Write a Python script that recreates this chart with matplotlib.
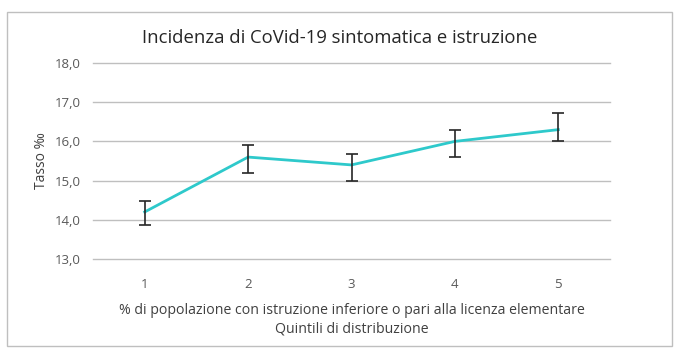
import matplotlib
matplotlib.use("Agg")
import matplotlib.pyplot as plt
from matplotlib.patches import Rectangle

quintili = [1, 2, 3, 4, 5]
tasso = [14.2, 15.6, 15.4, 16.0, 16.3]
ic_inf = [13.87, 15.2, 15.0, 15.6, 16.0]
ic_sup = [14.47, 15.92, 15.68, 16.3, 16.72]
yticks = [13.0, 14.0, 15.0, 16.0, 17.0, 18.0]

plt.rcParams['font.family'] = ['Open Sans', 'DejaVu Sans']

W, H = 687, 358
fig = plt.figure(figsize=(W / 100, H / 100), dpi=100)
fig.patches.append(Rectangle((7 / W, 1 - 346 / H), (672 - 7) / W, (346 - 12) / H,
                             transform=fig.transFigure, fill=False,
                             edgecolor='#BFBFBF', linewidth=1.0))

ax = fig.add_axes([93 / W, 1 - 259 / H, (610 - 93) / W, (259 - 63) / H])
ax.set_xlim(0.5, 5.5)
ax.set_ylim(13.0, 18.0)
ax.set_yticks(yticks)
ax.set_yticklabels([f"{v:.1f}".replace('.', ',') for v in yticks])
ax.set_xticks(quintili)
ax.set_xticklabels([str(q) for q in quintili])
ax.grid(axis='y', color='#BFBFBF', linewidth=1.0)
for gl in ax.get_ygridlines():
    gl.set_clip_on(False)
ax.set_axisbelow(True)
for s in ax.spines.values():
    s.set_visible(False)
ax.tick_params(length=0, labelsize=9.5, colors='#595959', pad=9)
ax.tick_params(axis='x', pad=14)

err_low = [t - l for t, l in zip(tasso, ic_inf)]
err_high = [u - t for t, u in zip(tasso, ic_sup)]
ax.plot(quintili, tasso, color='#2EC9CB', linewidth=2.0, zorder=3)
ax.errorbar(quintili, tasso, yerr=[err_low, err_high], fmt='none',
            ecolor='#262626', elinewidth=1.2, capsize=4, capthick=1.2, zorder=4)

ax.set_ylabel('Tasso ‰', fontsize=10, color='#404040', labelpad=4)
ax.set_xlabel('% di popolazione con istruzione inferiore o pari alla licenza elementare\nQuintili di distribuzione',
              fontsize=10.2, color='#404040', labelpad=8, linespacing=1.35)
fig.text(0.495, 1 - 38 / H, 'Incidenza di CoVid-19 sintomatica e istruzione',
         ha='center', va='center', fontsize=13.3, color='#262626')

fig.savefig('out.png', dpi=100, facecolor='white')
